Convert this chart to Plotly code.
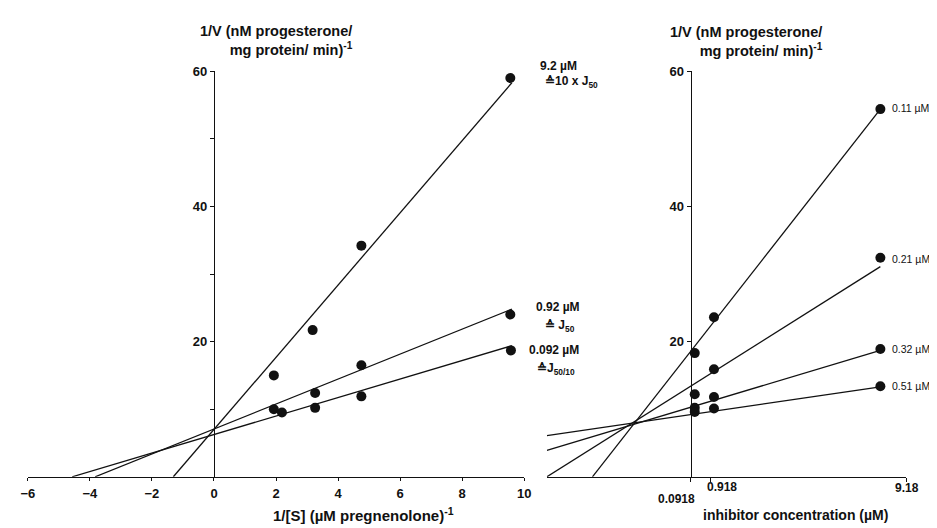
import plotly.graph_objects as go

W, H = 937, 528

# ---------------- data: left panel (1/V vs 1/[S]) ----------------
lb_names = ["9.2 µM", "0.92 µM", "0.092 µM"]
lb_notes = ["≙10 x J<sub>50</sub>", "≙ J<sub>50</sub>", "≙J<sub>50/10</sub>"]
lb_x = [[1.93, 3.18, 4.75, 9.55], [1.93, 3.26, 4.75, 9.55], [2.19, 3.26, 4.75, 9.57]]
lb_y = [[15.0, 21.7, 34.2, 59.0], [10.0, 12.4, 16.5, 24.0], [9.5, 10.2, 11.9, 18.7]]
lb_fit_x = [[-1.31, 9.6], [-3.83, 9.6], [-4.57, 9.6]]
lb_fit_y = [[0.0, 58.3], [0.0, 24.8], [0.0, 19.4]]
lb_xticks = [-6, -4, -2, 0, 2, 4, 6, 8, 10]

# ---------------- data: right panel (Dixon plot) ----------------
dx_names = ["0.11 µM", "0.21 µM", "0.32 µM", "0.51 µM"]
dx_x = [0.26, 1.07, 8.08]
dx_y = [[18.3, 23.6, 54.4], [12.2, 15.9, 32.4], [10.2, 11.8, 18.9], [9.6, 10.1, 13.4]]
dx_fit_x = [[-4.05, 8.08], [-5.97, 8.08], [-5.97, 8.08], [-5.97, 8.08]]
dx_fit_y = [[0.0, 54.4], [0.0, 31.1], [3.9, 18.7], [6.1, 13.3]]
dx_xticks = [0.0918, 0.918, 9.18]
dx_xticklabels = ["0.0918", "0.918", "9.18"]

y_major_ticks = [20, 40, 60]
y_minor_ticks = [10, 30, 50]

FONT = "Liberation Sans"
BLACK = "#111111"

fig = go.Figure()

# left panel
for fx, fy in zip(lb_fit_x, lb_fit_y):
    fig.add_trace(go.Scatter(x=fx, y=fy, mode="lines", line=dict(color=BLACK, width=1.3),
                             xaxis="x", yaxis="y", showlegend=False, hoverinfo="skip"))
for name, xs, ys in zip(lb_names, lb_x, lb_y):
    fig.add_trace(go.Scatter(x=xs, y=ys, mode="markers", name=name,
                             marker=dict(color=BLACK, size=10), cliponaxis=False,
                             xaxis="x", yaxis="y", showlegend=False))

# right panel
for fx, fy in zip(dx_fit_x, dx_fit_y):
    fig.add_trace(go.Scatter(x=fx, y=fy, mode="lines", line=dict(color=BLACK, width=1.3),
                             xaxis="x2", yaxis="y2", showlegend=False, hoverinfo="skip"))
for name, ys in zip(dx_names, dx_y):
    fig.add_trace(go.Scatter(x=dx_x, y=ys, mode="markers", name=name,
                             marker=dict(color=BLACK, size=10), cliponaxis=False,
                             xaxis="x2", yaxis="y2", showlegend=False))

# geometry
x1_dom = [13 / W, 517 / W]
x1_rng = [-6, 10]
x2_dom = [540 / W, 905 / W]
x2_rng = [-5.967, 9.18]
y_dom = [1 - 468 / H, 1 - 57 / H]


def data_to_paper(v, dom, rng):
    return dom[0] + (v - rng[0]) / (rng[1] - rng[0]) * (dom[1] - dom[0])


tickfont = dict(family=FONT, size=13, color=BLACK, weight="bold")

axis_common = dict(showgrid=False, zeroline=False, showline=True, linecolor=BLACK,
                   linewidth=1.2, ticks="outside", tickcolor=BLACK, tickwidth=1,
                   tickfont=tickfont, fixedrange=True)

fig.update_layout(
    width=W, height=H, autosize=False,
    margin=dict(l=0, r=0, t=0, b=0),
    paper_bgcolor="white", plot_bgcolor="white",
    font=dict(family=FONT, color=BLACK),
    xaxis=dict(domain=x1_dom, range=x1_rng, anchor="y", tickvals=lb_xticks,
               ticklen=3, ticklabelstandoff=2, **axis_common),
    yaxis=dict(domain=y_dom, range=[0, 60], anchor="free",
               position=data_to_paper(0, x1_dom, x1_rng),
               tickvals=y_major_ticks, ticklen=4,
               minor=dict(tickvals=y_minor_ticks, ticks="outside", ticklen=4,
                          tickcolor=BLACK, tickwidth=1, showgrid=False),
               **axis_common),
    xaxis2=dict(domain=x2_dom, range=x2_rng, anchor="y2", tickvals=dx_xticks,
                showticklabels=False, ticklen=4, **axis_common),
    yaxis2=dict(domain=y_dom, range=[0, 60], anchor="free",
                position=data_to_paper(dx_xticks[0], x2_dom, x2_rng),
                tickvals=y_major_ticks, ticklen=4, **axis_common),
)

ann = []
title_font = dict(family=FONT, size=14.5, color=BLACK, weight="bold")
ytitle = "1/V (nM progesterone/<br>mg protein/ min)<sup>-1</sup>"
ann.append(dict(x=345 / W, y=1 - 26 / H, xref="paper", yref="paper", text=ytitle,
                xanchor="right", yanchor="middle", align="right", showarrow=False, font=title_font))
ann.append(dict(x=822 / W, y=1 - 27 / H, xref="paper", yref="paper", text=ytitle,
                xanchor="right", yanchor="middle", align="right", showarrow=False, font=title_font))
ann.append(dict(x=354 / W, y=1 - 506 / H, xref="paper", yref="paper",
                text="1/[S] (µM pregnenolone)<sup>-1</sup>", xanchor="center", yanchor="middle",
                showarrow=False, font=dict(family=FONT, size=15, color=BLACK, weight="bold")))
ann.append(dict(x=792 / W, y=1 - 507 / H, xref="paper", yref="paper",
                text="inhibitor concentration (µM)", xanchor="center", yanchor="middle",
                showarrow=False, font=dict(family=FONT, size=14, color=BLACK, weight="bold")))

# left series labels
lbl_font = dict(family=FONT, size=12, color=BLACK, weight="bold")
lb_label_pos = [(531, 52), (527, 296), (520, 340)]
lb_note_pos = [(536, 68), (536, 315), (528, 359)]
for name, note, (lx, ly), (nx, ny) in zip(lb_names, lb_notes, lb_label_pos, lb_note_pos):
    ann.append(dict(x=lx / W, y=1 - ly / H, xref="paper", yref="paper", text=name,
                    xanchor="left", yanchor="middle", showarrow=False, font=lbl_font))
    ann.append(dict(x=nx / W, y=1 - ny / H, xref="paper", yref="paper", text=note,
                    xanchor="left", yanchor="middle", showarrow=False, font=lbl_font))

# right series labels
r_font = dict(family=FONT, size=10.5, color=BLACK)
dx_label_y = [94, 247, 338, 376]
for name, ly in zip(dx_names, dx_label_y):
    ann.append(dict(x=888 / W, y=1 - ly / H, xref="paper", yref="paper", text=name,
                    xanchor="left", yanchor="middle", showarrow=False, font=r_font))

# right x tick labels
tick_lbl_pos = [(672, 490), (718, 478), (906, 479)]
small_bold = dict(family=FONT, size=12, color=BLACK, weight="bold")
for txt, (tx, ty) in zip(dx_xticklabels, tick_lbl_pos):
    ann.append(dict(x=tx / W, y=1 - ty / H, xref="paper", yref="paper", text=txt,
                    xanchor="center", yanchor="middle", showarrow=False, font=small_bold))

fig.update_layout(annotations=ann)

fig.write_html("out.html")
